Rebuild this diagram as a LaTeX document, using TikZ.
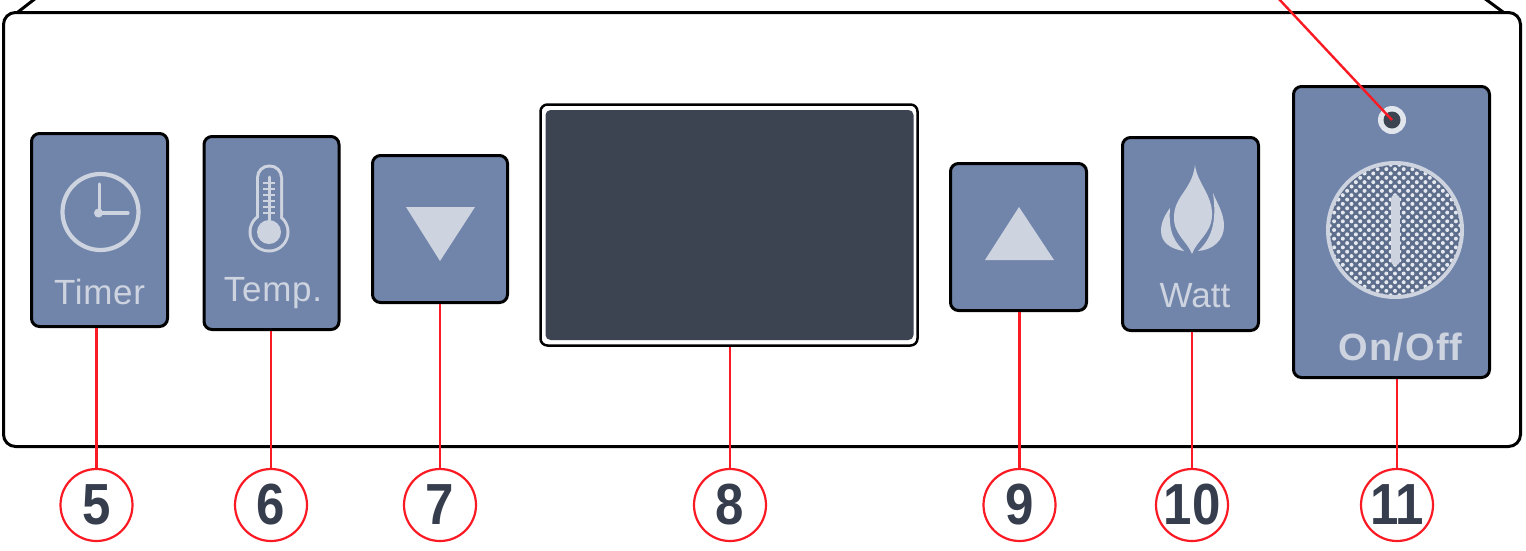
\documentclass[tikz,border=0pt]{standalone}
\usepackage{fontspec}
\setmainfont{Liberation Sans}
\newfontfamily\numfont[FakeStretch=0.88]{Liberation Sans}
\definecolor{btnblue}{HTML}{7185AB}
\definecolor{iconlight}{HTML}{CDD3DF}
\definecolor{dispdark}{HTML}{3D4451}
\definecolor{numdark}{HTML}{363D4D}
\definecolor{linkred}{HTML}{FA1A24}
\tikzset{
  btnbox/.style={draw=black,line width=3pt,fill=btnblue,rounded corners=8pt,inner sep=0pt},
  btnlabel/.style={text=iconlight,inner sep=0pt,font=\fontsize{35}{35}\selectfont},
  numcircle/.style={circle,draw=linkred,line width=2.2pt,fill=white,minimum size=72pt,inner sep=-6pt,text=numdark,font=\numfont\fontsize{58}{58}\selectfont\bfseries},
  link/.style={draw=linkred,line width=2.4pt},
  iconline/.style={draw=iconlight,line cap=round}
}
\begin{document}
\begin{tikzpicture}[x=1pt,y=-1pt]
\useasboundingbox (0,0) rectangle (1526,550);
\fill[white] (0,0) rectangle (1526,550);
% housing
\draw[black,line width=3pt] (18,12) -- (36,-2) (1484,-2) -- (1503,12);
\node[draw=black,line width=3pt,rounded corners=12pt,minimum width=1517pt,minimum height=434pt,inner sep=0pt] (panel) at (762,229.5) {};
% buttons
\node[btnbox,minimum width=136pt,minimum height=193pt] (timer) at (99.5,230) {};
\node[btnbox,minimum width=135pt,minimum height=193pt] (temp) at (271.5,233) {};
\node[btnbox,minimum width=135pt,minimum height=147pt] (down) at (440,229) {};
\node[draw=black,line width=2.5pt,fill=white,rounded corners=7pt,minimum width=377pt,minimum height=241pt,inner sep=0pt] (display) at (729,225) {};
\node[fill=dispdark,rounded corners=5pt,minimum width=368pt,minimum height=230pt,inner sep=0pt] (screen) at (729.5,225) {};
\node[btnbox,minimum width=136pt,minimum height=147pt] (up) at (1018.5,237) {};
\node[btnbox,minimum width=136pt,minimum height=193pt] (watt) at (1190.5,234) {};
\node[btnbox,minimum width=196pt,minimum height=291pt] (onoff) at (1391.5,232) {};
% clock
\draw[iconline,line width=4.2pt] (100.5,212) circle (38);
\draw[iconline,line width=3.2pt] (99.5,184) -- (99.5,213) -- (128,213);
\fill[iconlight] (98.5,213) circle (4.5);
% thermometer
\fill[iconlight] (269,232) circle (20.5);
\fill[iconlight,rounded corners=13pt] (256,164.5) rectangle (283,228);
\fill[btnblue] (269,232) circle (17.5);
\fill[btnblue,rounded corners=10.5pt] (259,167.5) rectangle (280,228);
\fill[iconlight] (269,232) circle (12);
\draw[iconline,line width=3pt] (269,177) -- (269,222);
\foreach \yy in {183,189,...,213} \draw[iconlight,line width=2pt] (263,\yy) -- (275,\yy);
% triangles
\fill[iconlight] (406,207) -- (475,207) -- (440,261) -- cycle;
\fill[iconlight] (985,260) -- (1054,260) -- (1019,207) -- cycle;
% flame
\fill[iconlight] (1195,165) .. controls (1197,183) and (1213,195) .. (1212,216) .. controls (1211,234) and (1197,240) .. (1192,254) .. controls (1187,241) and (1173,234) .. (1174,216) .. controls (1175,195) and (1192,190) .. (1195,165) -- cycle;
\fill[iconlight] (1170,208) .. controls (1165,215) and (1161,222) .. (1161,231) .. controls (1161,242) and (1170,249) .. (1184,251) .. controls (1176,243) and (1168,234) .. (1170,208) -- cycle;
\fill[iconlight] (1213,193) .. controls (1216,215) and (1215,236) .. (1198,251) .. controls (1213,250) and (1224,240) .. (1224,226) .. controls (1224,213) and (1217,203) .. (1213,193) -- cycle;
% on/off
\fill[iconlight] (1395,230) circle (69);
\fill[black!18!btnblue] (1395,230) circle (65);
\begin{scope}
\clip (1395,230) circle (65);
\foreach \i in {-8,...,8} \foreach \j in {-8,...,8} {
  \fill[iconlight!50!white] ({1395+8.7*\i},{230+8.7*\j}) circle (2);
  \fill[iconlight!50!white] ({1399.35+8.7*\i},{234.35+8.7*\j}) circle (2);
}
\end{scope}
\draw[draw=iconlight,line width=9pt,line cap=round] (1395,199) -- (1395,261);
\node[circle,fill=iconlight!60!white,minimum size=28pt,inner sep=0pt] (ledring) at (1392,120) {};
\node[circle,fill=dispdark,minimum size=17pt,inner sep=0pt] (led) at (1392,120) {};
% labels
\node[btnlabel] (ltimer) at (99.5,292) {\addfontfeature{LetterSpace=2}Timer};
\node[btnlabel] (ltemp) at (273,293) {\addfontfeature{LetterSpace=2}Temp.};
\node[btnlabel] (lwatt) at (1195,296) {Watt};
\node[btnlabel,font=\fontsize{38}{38}\selectfont\bfseries] (lonoff) at (1400.5,347.5) {\addfontfeature{LetterSpace=3}On/Off};
% number circles
\node[numcircle] (c5) at (96.5,505) {5};
\node[numcircle] (c6) at (271,505) {6};
\node[numcircle] (c7) at (440,505) {7};
\node[numcircle] (c8) at (730,505) {8};
\node[numcircle] (c9) at (1019.5,505) {9};
\node[numcircle] (c10) at (1192,505) {10};
\node[numcircle] (c11) at (1397,505) {11};
% connectors
\coordinate (ledend) at (1278,-2);
\draw[link] (ledend) -- (led.center);
\draw[link] (c5.north |- timer.south) -- (c5.north);
\draw[link] (c6.north |- temp.south) -- (c6.north);
\draw[link] (c7.north |- down.south) -- (c7.north);
\draw[link] (c8.north |- display.south) -- (c8.north);
\draw[link] (c9.north |- up.south) -- (c9.north);
\draw[link] (c10.north |- watt.south) -- (c10.north);
\draw[link] (c11.north |- onoff.south) -- (c11.north);
\end{tikzpicture}
\end{document}
